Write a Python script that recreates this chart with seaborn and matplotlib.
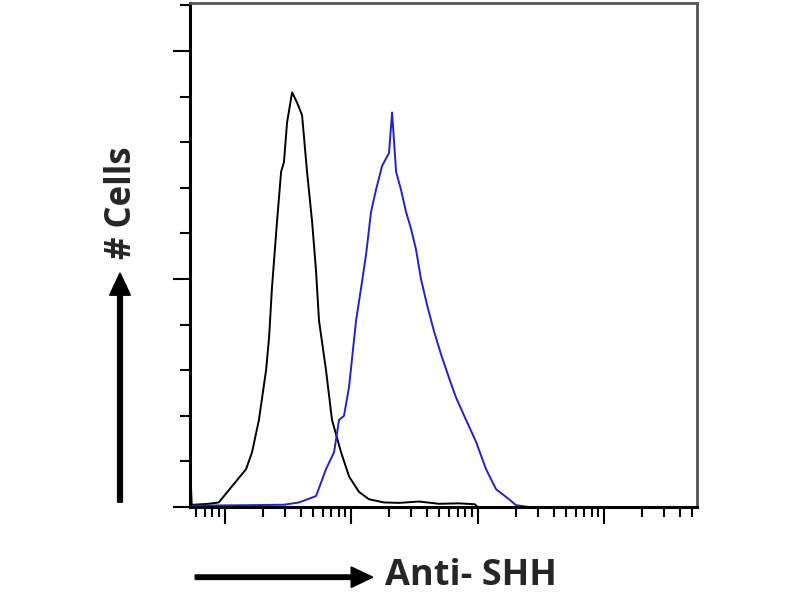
import numpy as np
import pandas as pd
import seaborn as sns
import matplotlib.pyplot as plt
from matplotlib.ticker import LogLocator, NullFormatter

# Isotype control (black) - fluorescence intensity vs cell count
ctrl_x = [5.3, 5.5, 5.7, 7.5, 9.0, 11.5, 14.8, 16.5, 18.7, 21.3, 22.5, 23.7, 26.0,
          28.0, 29.5, 31.2, 34.2, 37.4, 41.0, 44.9, 49.2, 52.9, 55.8, 63.4, 70.7,
          83.4, 96.4, 115.6, 138.7, 182, 239, 345, 497, 714, 950, 1000]
ctrl_y = [11.5, 0.5, 0.5, 0.7, 1.0, 4.6, 8.3, 12.0, 19.1, 30.0, 37.2, 48.0, 62.6,
          73.5, 75.6, 84.3, 90.9, 88.7, 85.9, 73.5, 62.6, 51.7, 40.9, 30.0, 19.1,
          12.0, 6.7, 3.3, 1.7, 1.0, 0.9, 1.2, 0.7, 0.8, 0.6, 0.0]

# Anti-SHH stained (blue)
shh_x = [5.7, 15.6, 29.5, 38.8, 52.9, 63.4, 73.4, 80.4, 88.0, 96.4, 109.6, 120,
         131.5, 143.9, 157.7, 176, 199.6, 211, 227, 248, 272, 298, 326, 357, 399,
         453, 514, 595, 676, 811, 973, 1167, 1400, 1774, 2015, 2550]
shh_y = [0.3, 0.4, 0.5, 1.0, 2.4, 8.3, 12.0, 19.1, 20.0, 26.3, 40.9, 48.0,
         55.4, 64.7, 69.6, 74.8, 77.6, 86.5, 73.5, 69.6, 64.7, 61.0, 56.5, 50.0, 44.3,
         38.5, 33.5, 28.3, 24.0, 19.1, 14.3, 8.3, 3.9, 1.7, 0.4, 0.0]

ctrl = pd.DataFrame({"intensity": ctrl_x, "cells": ctrl_y})
shh = pd.DataFrame({"intensity": shh_x, "cells": shh_y})

sns.set_style("ticks")
plt.rcParams['font.family'] = ['Open Sans', 'DejaVu Sans']

fig = plt.figure(figsize=(8, 6), dpi=100)
ax = fig.add_axes([0.2375, 0.155, 0.6338, 0.84])

sns.lineplot(data=ctrl, x="intensity", y="cells", color="black", lw=1.4,
             estimator=None, ax=ax)
sns.lineplot(data=shh, x="intensity", y="cells", color="#2222c8", lw=1.4,
             estimator=None, ax=ax)

ax.set_xscale("log")
ax.set_xlim(10 ** 0.727, 10 ** 4.735)
ax.set_ylim(0, 110.5)
ax.xaxis.set_major_locator(LogLocator(base=10, numticks=10))
ax.xaxis.set_minor_locator(LogLocator(base=10, subs=np.arange(2, 10), numticks=50))
ax.xaxis.set_major_formatter(NullFormatter())
ax.xaxis.set_minor_formatter(NullFormatter())
ax.set_yticks([0, 50, 100])
ax.set_yticks(np.arange(0, 111, 10), minor=True)
ax.set_yticklabels([])
ax.set_xlabel("")
ax.set_ylabel("")

ax.tick_params(axis="both", which="major", length=12, width=1.5, color="black",
               direction="out")
ax.tick_params(axis="both", which="minor", length=7.5, width=1.5, color="black",
               direction="out")

for side in ["left", "bottom"]:
    ax.spines[side].set_linewidth(2.2)
    ax.spines[side].set_color("black")
for side in ["top", "right"]:
    ax.spines[side].set_visible(True)
    ax.spines[side].set_linewidth(2.0)
    ax.spines[side].set_color("#555555")

# axis arrows and labels
fig.patches.append(plt.matplotlib.patches.FancyArrow(
    0.150, 0.163, 0, 0.345, width=0.006, head_width=0.026, head_length=0.037,
    length_includes_head=False, color="black", transform=fig.transFigure))
fig.text(0.1525, 0.663, "# Cells", rotation=90, ha="center", va="center",
         fontsize=25, fontweight="bold")

fig.patches.append(plt.matplotlib.patches.FancyArrow(
    0.244, 0.038, 0.195, 0, width=0.0075, head_width=0.034, head_length=0.027,
    length_includes_head=False, color="black", transform=fig.transFigure))
fig.text(0.481, 0.040, "Anti- SHH", ha="left", va="center",
         fontsize=26, fontweight="bold")

fig.savefig("out.png", dpi=100, facecolor="white")
